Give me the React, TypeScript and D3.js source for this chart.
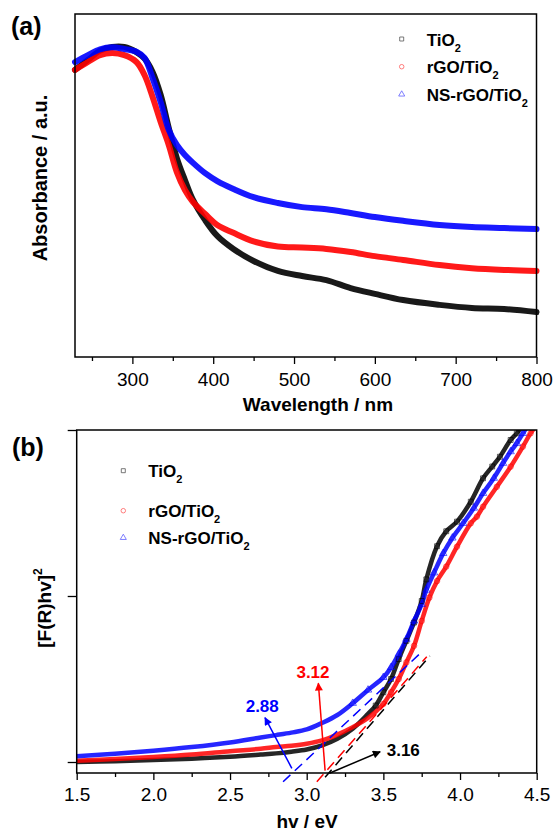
import React, { useRef, useEffect } from 'react';
import * as d3 from 'd3';

// ---- panel (a): UV-vis absorbance ----
const WAVELENGTH = [229, 245, 260, 275, 290, 305, 315, 325, 335, 345, 355, 365, 375, 390, 405, 425, 450, 480, 510, 540, 570, 600, 635, 680, 720, 760, 800];
const ABS_TIO2 = [0.837, 0.866, 0.893, 0.904, 0.904, 0.889, 0.870, 0.831, 0.764, 0.668, 0.580, 0.516, 0.458, 0.399, 0.353, 0.315, 0.280, 0.251, 0.236, 0.224, 0.201, 0.184, 0.166, 0.152, 0.143, 0.140, 0.131];
const ABS_RGO = [0.837, 0.860, 0.880, 0.886, 0.880, 0.860, 0.822, 0.758, 0.685, 0.618, 0.539, 0.487, 0.452, 0.417, 0.385, 0.362, 0.337, 0.322, 0.319, 0.315, 0.306, 0.294, 0.283, 0.268, 0.259, 0.254, 0.251];
const ABS_NSRGO = [0.860, 0.880, 0.897, 0.903, 0.898, 0.890, 0.872, 0.813, 0.743, 0.662, 0.618, 0.589, 0.566, 0.536, 0.513, 0.490, 0.466, 0.449, 0.437, 0.431, 0.420, 0.408, 0.397, 0.385, 0.379, 0.376, 0.373];
const WAVE_TICKS = [300, 400, 500, 600, 700, 800];
const WAVE_MINOR = [250, 350, 450, 550, 650, 750];

// ---- panel (b): Tauc plot ----
const TAUC_TIO2 = [[1.5, 0.0], [1.75, 0.005], [2.0, 0.012], [2.25, 0.02], [2.5, 0.032], [2.7, 0.045], [2.8, 0.052], [2.9, 0.062], [3.0, 0.075], [3.1, 0.1], [3.2, 0.14], [3.3, 0.2], [3.4, 0.29], [3.45, 0.34], [3.5, 0.42], [3.55, 0.5], [3.6, 0.62], [3.65, 0.73], [3.7, 0.84], [3.75, 0.97], [3.78, 1.1], [3.85, 1.3], [3.91, 1.39], [3.98, 1.448], [4.07, 1.568], [4.15, 1.709], [4.21, 1.78], [4.26, 1.839], [4.33, 1.94], [4.37, 1.98], [4.41, 2.03]];
const TAUC_RGO = [[1.5, 0.008], [1.75, 0.018], [2.0, 0.03], [2.25, 0.045], [2.5, 0.065], [2.7, 0.08], [2.8, 0.09], [2.9, 0.098], [3.0, 0.11], [3.1, 0.13], [3.2, 0.165], [3.3, 0.21], [3.4, 0.265], [3.5, 0.35], [3.55, 0.42], [3.6, 0.5], [3.65, 0.6], [3.7, 0.7], [3.75, 0.85], [3.8, 0.99], [3.85, 1.09], [3.91, 1.177], [3.98, 1.297], [4.07, 1.438], [4.11, 1.478], [4.15, 1.538], [4.24, 1.658], [4.33, 1.779], [4.41, 1.9], [4.46, 1.98], [4.5, 2.03]];
const TAUC_NSRGO = [[1.5, 0.035], [1.75, 0.05], [2.0, 0.068], [2.25, 0.09], [2.5, 0.118], [2.7, 0.148], [2.8, 0.162], [2.9, 0.177], [3.0, 0.196], [3.1, 0.235], [3.2, 0.283], [3.3, 0.354], [3.4, 0.434], [3.5, 0.51], [3.55, 0.57], [3.6, 0.65], [3.65, 0.74], [3.7, 0.85], [3.75, 0.95], [3.78, 1.036], [3.83, 1.14], [3.89, 1.257], [3.95, 1.35], [4.02, 1.438], [4.09, 1.53], [4.15, 1.619], [4.22, 1.71], [4.28, 1.8], [4.33, 1.87], [4.37, 1.92], [4.41, 1.98], [4.45, 2.04]];
const EV_TICKS = [1.5, 2.0, 2.5, 3.0, 3.5, 4.0, 4.5];
const EV_MINOR = [1.75, 2.25, 2.75, 3.25, 3.75, 4.25];
const TAUC_YTICKS = [0, 1, 2];

// tangent lines [start, end] and band-gap arrows [tail, head, label pos, text]
const TANGENTS = [
    { color: '#0000ff', p: [[2.846, -0.119], [3.751, 0.664]] },
    { color: '#ff0000', p: [[3.066, -0.119], [3.783, 0.634]] },
    { color: '#000000', p: [[3.12, -0.092], [3.803, 0.639]] },
];
const GAPS = [
    { color: '#0000ff', tail: [2.903, -0.038], head: [2.728, 0.267], at: [2.71, 0.302], anchor: 'middle', text: '2.88' },
    { color: '#ff0000', tail: [3.12, -0.052], head: [3.076, 0.474], at: [3.041, 0.504], anchor: 'middle', text: '3.12' },
    { color: '#000000', tail: [3.148, -0.068], head: [3.479, 0.062], at: [3.522, 0.036], anchor: 'start', text: '3.16' },
];

const SERIES = [
    { name: 'TiO', color: '#000000', legend: '#555555', symbol: d3.symbolSquare, abs: ABS_TIO2, tauc: TAUC_TIO2 },
    { name: 'rGO/TiO', color: '#ff0000', legend: '#ff6060', symbol: d3.symbolCircle, abs: ABS_RGO, tauc: TAUC_RGO },
    { name: 'NS-rGO/TiO', color: '#0000ff', legend: '#6060ff', symbol: d3.symbolTriangle, abs: ABS_NSRGO, tauc: TAUC_NSRGO },
];

const FONT = '"Liberation Sans", Arial, sans-serif';

const App = () => {
    const svgRef = useRef(null);

    useEffect(() => {
        const svg = d3.select(svgRef.current);
        svg.selectAll('*').remove();

        svg.append('defs').selectAll('marker')
            .data(GAPS)
            .enter()
            .append('marker')
            .attr('id', (d, i) => `head${i}`)
            .attr('viewBox', '0 0 10 10')
            .attr('refX', 9).attr('refY', 5)
            .attr('markerWidth', 9).attr('markerHeight', 8)
            .attr('markerUnits', 'userSpaceOnUse')
            .attr('orient', 'auto')
            .append('path')
            .attr('d', 'M0,0 L10,5 L0,10 Z')
            .attr('fill', d => d.color);

        const legend = (g, x, ys) => {
            SERIES.forEach((s, i) => {
                g.append('path')
                    .attr('d', d3.symbol().type(s.symbol).size(16)())
                    .attr('transform', `translate(${x},${ys[i]})`)
                    .attr('fill', 'none')
                    .attr('stroke', s.legend)
                    .attr('stroke-width', 0.8);
                const t = g.append('text')
                    .attr('x', x + 25).attr('y', ys[i] + 6.5)
                    .attr('font-family', FONT).attr('font-weight', 'bold').attr('font-size', 17);
                t.append('tspan').text(s.name);
                t.append('tspan').attr('dy', 6).attr('font-size', 11).text('2');
            });
        };

        const styleAxis = (g, size) => {
            g.select('.domain').remove();
            g.selectAll('line').attr('stroke', '#000').attr('stroke-width', 1.3);
            g.selectAll('text').attr('font-family', FONT).attr('font-size', size).attr('fill', '#000');
        };

        // ================= panel (a) =================
        const xA = d3.scaleLinear().domain([229, 800]).range([75, 536.5]);
        const yA = d3.scaleLinear().domain([0, 1]).range([357, 14]);

        const gA = svg.append('g');
        const lineA = d3.line().curve(d3.curveCatmullRom.alpha(0.5))
            .x((d, i) => xA(WAVELENGTH[i]))
            .y(d => yA(d));

        SERIES.forEach(s => {
            gA.append('path')
                .attr('d', lineA(s.abs))
                .attr('fill', 'none')
                .attr('stroke', s.color)
                .attr('stroke-width', 6)
                .attr('stroke-opacity', 0.9)
                .attr('stroke-linecap', 'round');
        });

        const axA = gA.append('g').attr('transform', 'translate(0,357)')
            .call(d3.axisBottom(xA).tickValues(WAVE_TICKS).tickSize(7).tickPadding(9).tickFormat(d3.format('d')));
        styleAxis(axA, 19);
        const axAm = gA.append('g').attr('transform', 'translate(0,357)')
            .call(d3.axisBottom(xA).tickValues(WAVE_MINOR).tickSize(4).tickFormat(() => ''));
        styleAxis(axAm, 19);

        gA.append('rect')
            .attr('x', 75).attr('y', 14).attr('width', 461.5).attr('height', 343)
            .attr('fill', 'none').attr('stroke', '#000').attr('stroke-width', 1.5);

        legend(gA, 401.7, [39, 66.7, 94.3]);

        gA.append('text').text('(a)')
            .attr('x', 11).attr('y', 35)
            .attr('font-family', FONT).attr('font-weight', 'bold').attr('font-size', 25);
        gA.append('text').text('Absorbance / a.u.')
            .attr('transform', 'translate(47,178) rotate(-90)')
            .attr('text-anchor', 'middle')
            .attr('font-family', FONT).attr('font-weight', 'bold').attr('font-size', 20);
        gA.append('text').text('Wavelength / nm')
            .attr('x', 318).attr('y', 411)
            .attr('text-anchor', 'middle')
            .attr('font-family', FONT).attr('font-weight', 'bold').attr('font-size', 19);

        // ================= panel (b) =================
        const xB = d3.scaleLinear().domain([1.5, 4.5]).range([76.7, 536.7]);
        const yB = d3.scaleLinear().domain([0, 2]).range([762, 430]);
        const yBottom = 773;

        const gB = svg.append('g');
        svg.select('defs').append('clipPath').attr('id', 'clipB')
            .append('rect').attr('x', 76.7).attr('y', 430).attr('width', 460).attr('height', yBottom - 430);

        const plotB = gB.append('g').attr('clip-path', 'url(#clipB)');
        const lineB = d3.line().curve(d3.curveCatmullRom.alpha(0.5))
            .x(d => xB(d[0]))
            .y(d => yB(d[1]));

        SERIES.forEach(s => {
            plotB.append('path')
                .attr('d', lineB(s.tauc))
                .attr('fill', 'none')
                .attr('stroke', s.color)
                .attr('stroke-width', 4.5)
                .attr('stroke-opacity', 0.85)
                .attr('stroke-linecap', 'round');
        });
        // open markers only where the points spread apart (steep part)
        SERIES.forEach(s => {
            plotB.append('g').selectAll('path')
                .data(s.tauc.filter(d => d[1] > 0.3))
                .enter()
                .append('path')
                .attr('d', d3.symbol().type(s.symbol).size(24)())
                .attr('transform', d => `translate(${xB(d[0])},${yB(d[1])})`)
                .attr('fill', 'none')
                .attr('stroke', s.color)
                .attr('stroke-opacity', 0.75)
                .attr('stroke-width', 0.8);
        });

        TANGENTS.forEach(t => {
            gB.append('line')
                .attr('x1', xB(t.p[0][0])).attr('y1', yB(t.p[0][1]))
                .attr('x2', xB(t.p[1][0])).attr('y2', yB(t.p[1][1]))
                .attr('stroke', t.color)
                .attr('stroke-width', 1.5)
                .attr('stroke-dasharray', '10,6');
        });

        GAPS.forEach((a, i) => {
            gB.append('line')
                .attr('x1', xB(a.tail[0])).attr('y1', yB(a.tail[1]))
                .attr('x2', xB(a.head[0])).attr('y2', yB(a.head[1]))
                .attr('stroke', a.color)
                .attr('stroke-width', 1.5)
                .attr('marker-end', `url(#head${i})`);
            gB.append('text').text(a.text)
                .attr('x', xB(a.at[0])).attr('y', yB(a.at[1]))
                .attr('text-anchor', a.anchor)
                .attr('fill', a.color)
                .attr('font-family', FONT).attr('font-weight', 'bold').attr('font-size', 17);
        });

        const axB = gB.append('g').attr('transform', `translate(0,${yBottom})`)
            .call(d3.axisBottom(xB).tickValues(EV_TICKS).tickSize(7).tickPadding(8).tickFormat(d3.format('.1f')));
        styleAxis(axB, 19);
        const axBm = gB.append('g').attr('transform', `translate(0,${yBottom})`)
            .call(d3.axisBottom(xB).tickValues(EV_MINOR).tickSize(4).tickFormat(() => ''));
        styleAxis(axBm, 19);
        const axBy = gB.append('g').attr('transform', 'translate(76.7,0)')
            .call(d3.axisLeft(yB).tickValues(TAUC_YTICKS).tickSize(9).tickFormat(() => ''));
        styleAxis(axBy, 19);

        gB.append('path')
            .attr('d', `M76.7,${yBottom} V430 H536.7 V${yBottom} Z`)
            .attr('fill', 'none').attr('stroke', '#000').attr('stroke-width', 1.5);

        legend(gB, 123.3, [470.7, 510.7, 537.7]);

        gB.append('text').text('(b)')
            .attr('x', 12).attr('y', 456)
            .attr('font-family', FONT).attr('font-weight', 'bold').attr('font-size', 25);
        const yt = gB.append('text')
            .attr('transform', 'translate(51,608) rotate(-90)')
            .attr('text-anchor', 'middle')
            .attr('font-family', FONT).attr('font-weight', 'bold').attr('font-size', 19);
        yt.append('tspan').text('[F(R)hv]');
        yt.append('tspan').attr('dy', -9).attr('font-size', 12).text('2');
        gB.append('text').text('hv / eV')
            .attr('x', 307).attr('y', 828)
            .attr('text-anchor', 'middle')
            .attr('font-family', FONT).attr('font-weight', 'bold').attr('font-size', 19);
    }, []);

    return (
        <svg ref={svgRef} width={554} height={832}
            style={{ position: 'absolute', left: 0, top: 0, background: '#fff' }}></svg>
    );
};

export default App;
